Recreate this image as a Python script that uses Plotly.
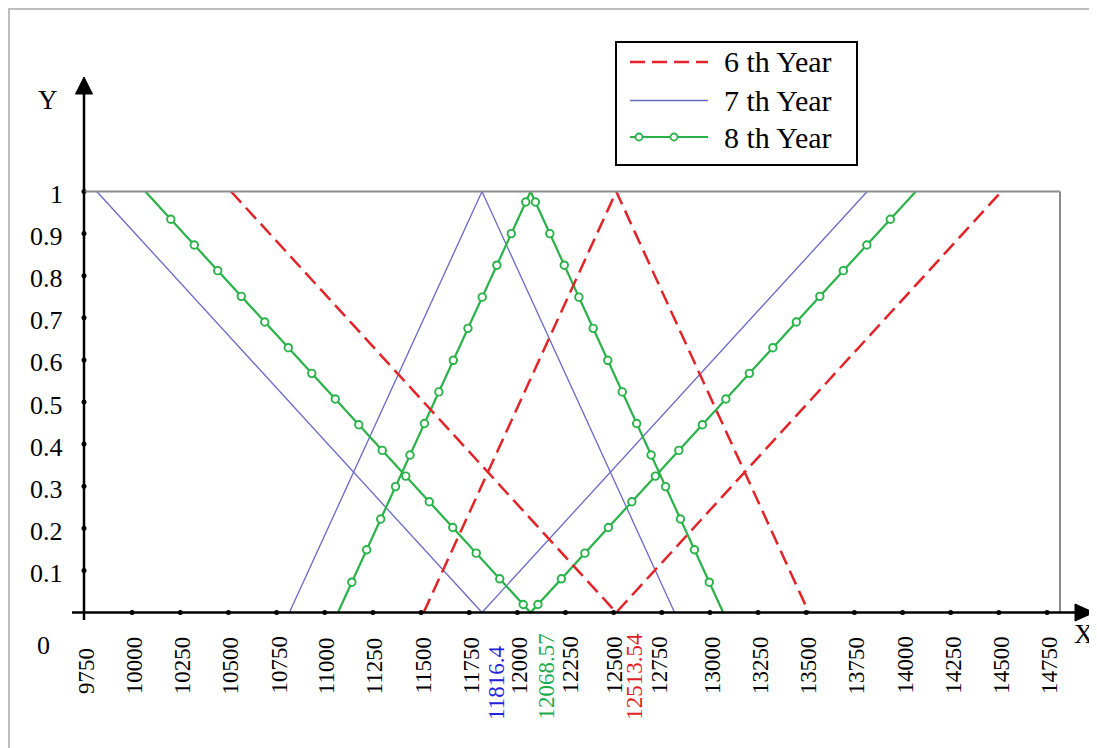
import plotly.graph_objects as go

# ---------------- data ----------------
SERIES_NAMES = ["6 th Year", "7 th Year", "8 th Year"]
PEAK_VALUES = [12513.54, 11816.4, 12068.57]
PEAK_LABELS = ["12513.54", "11816.4", "12068.57"]

# vertices of the V-shaped and triangular membership curves
YEAR6_X = [10513.54, 12513.54, 14513.54, None, 11513.54, 12513.54, 13513.54]
YEAR7_X = [9816.4, 11816.4, 13816.4, None, 10816.4, 11816.4, 12816.4]
YEAR8_X = [10068.57, 12068.57, 14068.57, None, 11068.57, 12068.57, 13068.57]
SHAPE_Y = [1, 0, 1, None, 0, 1, 0]

# membership levels of the circle markers along the 8th-year curves
V_MARKER_LEVELS = [0.934, 0.873, 0.812, 0.751, 0.690, 0.629, 0.568, 0.507,
                   0.446, 0.385, 0.324, 0.263, 0.202, 0.141, 0.080, 0.019]
TRI_MARKER_LEVELS = [0.072, 0.149, 0.222, 0.299, 0.374, 0.449, 0.524,
                     0.599, 0.675, 0.749, 0.825, 0.900, 0.975]

X_TICKS = [9750, 10000, 10250, 10500, 10750, 11000, 11250, 11500, 11750,
           12000, 12250, 12500, 12750, 13000, 13250, 13500, 13750, 14000,
           14250, 14500, 14750]
X_TICK_LABELS = ["9750", "10000", "10250", "10500", "10750", "11000", "11250",
                 "11500", "11750", "12000", "12250", "12500", "12750", "13000",
                 "13250", "13500", "13750", "14000", "14250", "14500", "14750"]
Y_TICKS = [0.1, 0.2, 0.3, 0.4, 0.5, 0.6, 0.7, 0.8, 0.9, 1.0]
Y_TICK_LABELS = ["0.1", "0.2", "0.3", "0.4", "0.5", "0.6", "0.7", "0.8", "0.9", "1"]

# ---------------- style ----------------
RED = "rgb(226,35,40)"
BLUE = "rgb(104,104,200)"
GREEN = "rgb(40,178,72)"
LABEL_COLORS = ["rgb(225,30,35)", "rgb(35,35,215)", "rgb(30,170,75)"]
FONT = "Liberation Serif, Times New Roman, serif"

PAGE_OFF = 8                             # page body margin in the browser
W, H = 1097 - PAGE_OFF, 748 - PAGE_OFF  # figure size
L, R, T, B = 72, 1095, 70, 622          # plot-area edges in page pixels
ORIGIN_PX, ORIGIN_PY = 84, 612.5        # where (9750, 0) sits (page pixels)
X_PX_PER_UNIT = 48.15 / 250
Y_PX_PER_UNIT = 421.0


def xp(px):
    return (px - L) / (R - L)


def yp(py):
    return (B - py) / (B - T)


x_range = [X_TICKS[0] - (ORIGIN_PX - L) / X_PX_PER_UNIT,
           X_TICKS[0] + (R - ORIGIN_PX) / X_PX_PER_UNIT]
y_range = [-(B - ORIGIN_PY) / Y_PX_PER_UNIT, (ORIGIN_PY - T) / Y_PX_PER_UNIT]

fig = go.Figure()

# main curves
fig.add_trace(go.Scatter(x=YEAR7_X, y=SHAPE_Y, mode="lines", name=SERIES_NAMES[1],
                         line=dict(color=BLUE, width=1.3), showlegend=False))
fig.add_trace(go.Scatter(x=YEAR8_X, y=SHAPE_Y, mode="lines", name=SERIES_NAMES[2],
                         line=dict(color=GREEN, width=2.2), showlegend=False))
fig.add_trace(go.Scatter(x=YEAR6_X, y=SHAPE_Y, mode="lines", name=SERIES_NAMES[0],
                         line=dict(color=RED, width=2.5, dash="15px,7px"),
                         showlegend=False))

# circle markers along the 8th-year curves
c8 = YEAR8_X[1]
v_half = YEAR8_X[1] - YEAR8_X[0]
t_half = YEAR8_X[5] - YEAR8_X[4]
mx, my = [], []
for lv in V_MARKER_LEVELS:
    mx += [c8 - v_half * lv, c8 + v_half * lv]
    my += [lv, lv]
for lt in TRI_MARKER_LEVELS:
    mx += [c8 - t_half * (1 - lt), c8 + t_half * (1 - lt)]
    my += [lt, lt]
fig.add_trace(go.Scatter(x=mx, y=my, mode="markers", showlegend=False,
                         marker=dict(symbol="circle", size=7.5, color="white",
                                     line=dict(color=GREEN, width=1.9))))

# tick dots on the axes
fig.add_trace(go.Scatter(x=X_TICKS[1:], y=[0] * (len(X_TICKS) - 1), mode="markers",
                         showlegend=False, marker=dict(size=5, color="black")))
fig.add_trace(go.Scatter(x=[X_TICKS[0]] * len(Y_TICKS), y=Y_TICKS, mode="markers",
                         showlegend=False, marker=dict(size=5, color="black")))

shapes = []
# gray frame (top at y=1, right side)
shapes.append(dict(type="line", xref="x", yref="y", x0=X_TICKS[0],
                   x1=X_TICKS[0] + (1060 - ORIGIN_PX) / X_PX_PER_UNIT,
                   y0=1, y1=1, line=dict(color="rgb(140,140,140)", width=2)))
shapes.append(dict(type="line", xref="paper", yref="y", x0=xp(1060), x1=xp(1060),
                   y0=0, y1=1, line=dict(color="rgb(140,140,140)", width=2)))
# axes
shapes.append(dict(type="line", xref="paper", yref="y", x0=xp(72), x1=xp(1078), y0=0, y1=0,
                   line=dict(color="black", width=2.5)))
shapes.append(dict(type="line", xref="x", yref="paper", x0=X_TICKS[0], x1=X_TICKS[0],
                   y0=yp(620), y1=yp(92), line=dict(color="black", width=2.5)))
# arrow heads
shapes.append(dict(type="path", xref="paper", yref="paper",
                   path=f"M{xp(1075)},{yp(604)} L{xp(1094)},{yp(612.5)} L{xp(1075)},{yp(621)} Z",
                   fillcolor="black", line=dict(color="black", width=1)))
shapes.append(dict(type="path", xref="paper", yref="paper",
                   path=f"M{xp(75.5)},{yp(94)} L{xp(84)},{yp(77)} L{xp(92.5)},{yp(94)} Z",
                   fillcolor="black", line=dict(color="black", width=1)))
# outer light frame of the figure
shapes.append(dict(type="line", xref="paper", yref="paper", x0=xp(9), x1=xp(9),
                   y0=yp(8), y1=yp(748), line=dict(color="rgb(190,190,190)", width=2)))
shapes.append(dict(type="line", xref="paper", yref="paper", x0=xp(9), x1=xp(1097),
                   y0=yp(9), y1=yp(9), line=dict(color="rgb(190,190,190)", width=2)))

# manual legend
shapes.append(dict(type="rect", xref="paper", yref="paper", x0=xp(616), x1=xp(857),
                   y0=yp(165), y1=yp(42), line=dict(color="black", width=2), fillcolor="white"))
shapes.append(dict(type="line", xref="paper", yref="paper", x0=xp(630), x1=xp(708),
                   y0=yp(62), y1=yp(62), line=dict(color=RED, width=2.5, dash="15px,7px")))
shapes.append(dict(type="line", xref="paper", yref="paper", x0=xp(630), x1=xp(708),
                   y0=yp(100.5), y1=yp(100.5), line=dict(color=BLUE, width=1.3)))
shapes.append(dict(type="line", xref="paper", yref="paper", x0=xp(630), x1=xp(708),
                   y0=yp(137), y1=yp(137), line=dict(color=GREEN, width=2.2)))
for cx in (639, 674):
    shapes.append(dict(type="circle", xref="paper", yref="paper",
                       x0=xp(cx - 3.5), x1=xp(cx + 3.5), y0=yp(140.5), y1=yp(133.5),
                       fillcolor="white", line=dict(color=GREEN, width=1.8)))

annotations = []
for i, name in enumerate(SERIES_NAMES):
    annotations.append(dict(text=name, xref="paper", yref="paper", x=xp(722),
                            y=yp([62, 100, 137][i]), xanchor="left", yanchor="middle",
                            showarrow=False, font=dict(family=FONT, size=30, color="black")))

# x tick labels
x_shift = {"12250": 4, "12750": -3, "12500": 0}
for v, lab in zip(X_TICKS, X_TICK_LABELS):
    annotations.append(dict(text=lab, x=v, xref="x", y=yp(696), yref="paper",
                            textangle=-90, xanchor="center", yanchor="bottom",
                            xshift=x_shift.get(lab, 2), showarrow=False,
                            font=dict(family=FONT, size=23, color="black")))
peak_shift = [18, 14, 15]
for v, lab, col, sh in zip(PEAK_VALUES, PEAK_LABELS, LABEL_COLORS, peak_shift):
    annotations.append(dict(text=lab, x=v, xref="x", y=yp(722), yref="paper",
                            textangle=-90, xanchor="center", yanchor="bottom",
                            xshift=sh, showarrow=False,
                            font=dict(family=FONT, size=23, color=col)))
# y tick labels
for v, lab in zip(Y_TICKS, Y_TICK_LABELS):
    annotations.append(dict(text=lab, x=xp(65), xref="paper", y=v, yref="y",
                            xanchor="right", yanchor="middle", yshift=-3, showarrow=False,
                            font=dict(family=FONT, size=26, color="black")))
annotations.append(dict(text="0", x=xp(43), y=yp(645), xref="paper", yref="paper",
                        xanchor="center", yanchor="middle",
                        showarrow=False, font=dict(family=FONT, size=26, color="black")))
annotations.append(dict(text="Y", x=xp(48), y=yp(100), xref="paper", yref="paper",
                        xanchor="center", yanchor="middle",
                        showarrow=False, font=dict(family=FONT, size=27, color="black")))
annotations.append(dict(text="X", x=xp(1084), y=yp(634), xref="paper", yref="paper",
                        xanchor="center", yanchor="middle",
                        showarrow=False, font=dict(family=FONT, size=27, color="black")))

fig.update_layout(
    width=W, height=H,
    margin=dict(l=L - PAGE_OFF, r=W - (R - PAGE_OFF), t=T - PAGE_OFF,
                b=H - (B - PAGE_OFF), autoexpand=False),
    paper_bgcolor="white", plot_bgcolor="white",
    showlegend=False,
    xaxis=dict(range=x_range, visible=False, fixedrange=True),
    yaxis=dict(range=y_range, visible=False, fixedrange=True),
    shapes=shapes, annotations=annotations,
)

fig.write_html("out.html")
